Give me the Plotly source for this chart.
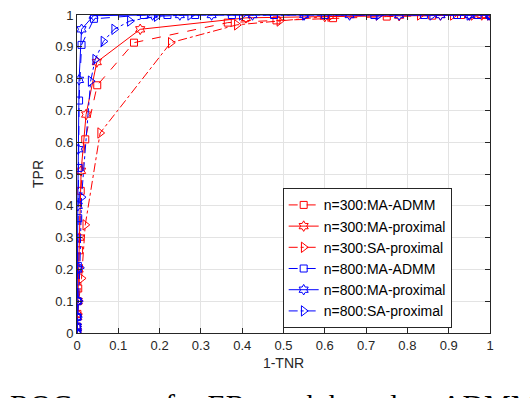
import plotly.graph_objects as go

# ---- data ----
red_admm_x = [0, 0, 0.001, 0.002, 0.003, 0.005, 0.009, 0.02, 0.049, 0.138, 0.365, 0.483, 0.62, 0.75, 0.86, 0.93, 0.97, 0.99, 1]
red_admm_y = [0, 0.02, 0.06, 0.1, 0.14, 0.26, 0.447, 0.609, 0.779, 0.913, 0.976, 0.983, 0.99, 0.995, 0.998, 1, 1, 1, 1]

red_prox_x = [0, 0, 0.001, 0.002, 0.004, 0.006, 0.01, 0.022, 0.048, 0.153, 0.409, 0.6, 0.78, 0.88, 0.95, 0.98, 1]
red_prox_y = [0, 0.02, 0.05, 0.1, 0.2, 0.3, 0.51, 0.687, 0.852, 0.955, 0.991, 0.995, 0.998, 1, 1, 1, 1]

red_sa_x = [0, 0, 0.002, 0.004, 0.011, 0.02, 0.056, 0.227, 0.387, 0.49, 0.613, 0.73, 0.83, 0.91, 0.96, 1]
red_sa_y = [0, 0.02, 0.06, 0.1, 0.172, 0.34, 0.629, 0.913, 0.969, 0.981, 0.996, 1, 1, 1, 1, 1]

blue_admm_x = [0, 0, 0, 0.001, 0.002, 0.003, 0.004, 0.005, 0.011, 0.041, 0.162, 0.219, 0.286, 0.375, 0.477, 0.6, 0.72, 0.84, 0.92, 0.97, 1]
blue_admm_y = [0, 0.02, 0.05, 0.1, 0.211, 0.361, 0.519, 0.731, 0.906, 0.988, 1, 1, 1, 1, 1, 1, 1, 1, 1, 1, 1]

blue_prox_x = [0, 0, 0, 0.001, 0.001, 0.002, 0.003, 0.005, 0.011, 0.04, 0.183, 0.249, 0.326, 0.425, 0.55, 0.66, 0.78, 0.88, 0.95, 1]
blue_prox_y = [0, 0.02, 0.05, 0.1, 0.2, 0.4, 0.578, 0.796, 0.955, 0.998, 1, 1, 1, 1, 1, 1, 1, 1, 1, 1]

blue_sa_x = [0, 0, 0.002, 0.004, 0.007, 0.011, 0.033, 0.044, 0.064, 0.09, 0.128, 0.193, 0.274, 0.399, 0.552, 0.73, 0.86, 0.95, 1]
blue_sa_y = [0, 0.02, 0.05, 0.1, 0.205, 0.427, 0.792, 0.86, 0.917, 0.955, 0.981, 0.996, 1, 1, 1, 1, 1, 1, 1]

tick_vals = [0, 0.1, 0.2, 0.3, 0.4, 0.5, 0.6, 0.7, 0.8, 0.9, 1]
tick_text = ['0', '0.1', '0.2', '0.3', '0.4', '0.5', '0.6', '0.7', '0.8', '0.9', '1']

series = [
    ('n=300:MA-ADMM', red_admm_x, red_admm_y, '#ff0000', 'dash', 'square-open', 7),
    ('n=300:MA-proximal', red_prox_x, red_prox_y, '#ff0000', 'solid', 'hexagram-open', 8),
    ('n=300:SA-proximal', red_sa_x, red_sa_y, '#ff0000', 'dashdot', 'triangle-right-open', 9),
    ('n=800:MA-ADMM', blue_admm_x, blue_admm_y, '#0000ff', 'dash', 'square-open', 7),
    ('n=800:MA-proximal', blue_prox_x, blue_prox_y, '#0000ff', 'solid', 'hexagram-open', 8),
    ('n=800:SA-proximal', blue_sa_x, blue_sa_y, '#0000ff', 'dashdot', 'triangle-right-open', 9),
]

fig = go.Figure()
for name, xs, ys, color, dash, symbol, size in series:
    fig.add_trace(go.Scatter(
        x=xs, y=ys, name=name, mode='lines+markers',
        line=dict(color=color, width=1, dash=dash),
        marker=dict(symbol=symbol, size=size, color=color, line=dict(width=1, color=color)),
    ))

axis_style = dict(
    range=[0, 1], tickvals=tick_vals, ticktext=tick_text,
    showgrid=True, gridcolor='#e3e3e3', gridwidth=1,
    showline=True, linecolor='#262626', linewidth=1, mirror='ticks',
    ticks='inside', ticklen=5, tickcolor='#262626',
    zeroline=False, tickfont=dict(size=13, color='#262626'),
)

fig.update_xaxes(**axis_style, title=dict(text='1-TNR', font=dict(size=14, color='#262626'), standoff=6))
fig.update_yaxes(**axis_style, title=dict(text='TPR', font=dict(size=14, color='#262626'), standoff=8))

# figure caption, mostly cut off by the bottom edge as in the source
fig.add_annotation(
    text='ROC curves for ER graph based on ADMM', xref='paper', yref='paper',
    x=-0.167, y=-0.166, xanchor='left', yanchor='top', showarrow=False,
    font=dict(family='Liberation Serif, Times New Roman, serif', size=30, color='#000000'),
)

fig.update_layout(
    width=530, height=398,
    margin=dict(l=77, r=40, t=8, b=65),
    paper_bgcolor='white', plot_bgcolor='white',
    font=dict(family='Liberation Sans, Arial, sans-serif', color='#262626'),
    legend=dict(
        x=0.498, y=0.455, xanchor='left', yanchor='top',
        bgcolor='white', bordercolor='#262626', borderwidth=1,
        font=dict(size=14, color='#000000'), tracegroupgap=0,
    ),
)

fig.write_html('out.html', config={'displayModeBar': False},
               post_script="document.body.style.margin='0px';")
